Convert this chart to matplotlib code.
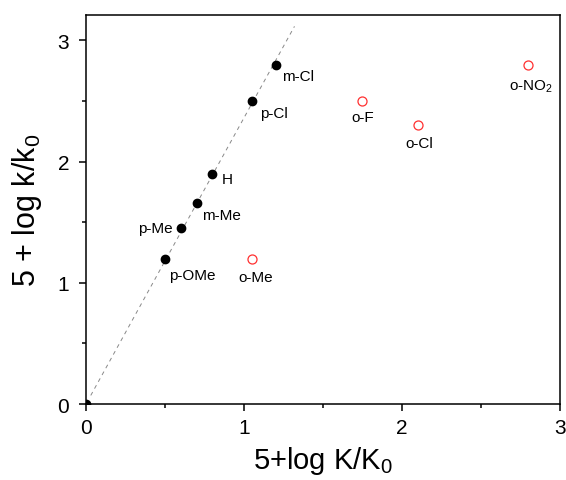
import matplotlib.pyplot as plt
from matplotlib.ticker import MultipleLocator

plt.rcParams['font.family'] = ['Liberation Sans', 'DejaVu Sans']
plt.rcParams['mathtext.fontset'] = 'custom'
plt.rcParams['mathtext.rm'] = 'Liberation Sans'
plt.rcParams['mathtext.it'] = 'Liberation Sans'

# meta / para substituents (filled)
mp_x = [0.0, 0.5, 0.6, 0.7, 0.8, 1.05, 1.2]
mp_y = [0.0, 1.2, 1.45, 1.66, 1.9, 2.5, 2.8]
mp_labels = ['', 'p-OMe', 'p-Me', 'm-Me', 'H', 'p-Cl', 'm-Cl']

# ortho substituents (open red)
o_x = [1.05, 1.75, 2.1, 2.8]
o_y = [1.2, 2.5, 2.3, 2.8]
o_labels = ['o-Me', 'o-F', 'o-Cl', 'o-NO$_2$']

# fitted line through the origin
fit_x = [0.03, 1.32]
fit_slope = 2.36

fig = plt.figure(figsize=(5.66, 4.81), dpi=100)
ax = fig.add_axes([0.152, 0.158, 0.837, 0.809])

ax.plot(fit_x, [fit_slope * x for x in fit_x], ls=(0, (4, 4)), color='#888888', lw=0.7)
ax.plot(mp_x, mp_y, 'o', color='black', ms=6)
ax.plot(o_x, o_y, 'o', mfc='none', mec='#ff3030', mew=0.9, ms=6.5)

# label offsets in points (dx, dy, ha)
mp_offsets = [None, (3, -12, 'left'), (-6, 0, 'right'), (4, -9, 'left'),
              (7, -4, 'left'), (6, -9, 'left'), (5, -8, 'left')]
for x, y, lab, off in zip(mp_x, mp_y, mp_labels, mp_offsets):
    if off is None:
        continue
    ax.annotate(lab, (x, y), xytext=(off[0], off[1]), textcoords='offset points',
                ha=off[2], va='center', fontsize=11)

o_offsets = [(3, -13), (0, -11.5), (1, -13), (2, -15)]
for x, y, lab, off in zip(o_x, o_y, o_labels, o_offsets):
    ax.annotate(lab, (x, y), xytext=off, textcoords='offset points',
                ha='center', va='center', fontsize=11)

ax.set_xlim(0, 3)
ax.set_ylim(0, 3.21)
ax.xaxis.set_major_locator(MultipleLocator(1))
ax.xaxis.set_minor_locator(MultipleLocator(0.5))
ax.yaxis.set_major_locator(MultipleLocator(1))
ax.yaxis.set_minor_locator(MultipleLocator(0.5))
ax.tick_params(which='major', direction='out', length=5, width=1.1, labelsize=15)
ax.tick_params(axis='x', which='major', pad=5)
ax.tick_params(axis='y', which='major', pad=7)
ax.tick_params(which='minor', direction='out', length=3, width=1.1)
for s in ax.spines.values():
    s.set_linewidth(1.1)

ax.set_xlabel('5+log K/K$_0$', fontsize=21, labelpad=5)
ax.set_ylabel('5 + log k/k$_0$', fontsize=22, labelpad=10)

fig.savefig('out.png', dpi=100)
